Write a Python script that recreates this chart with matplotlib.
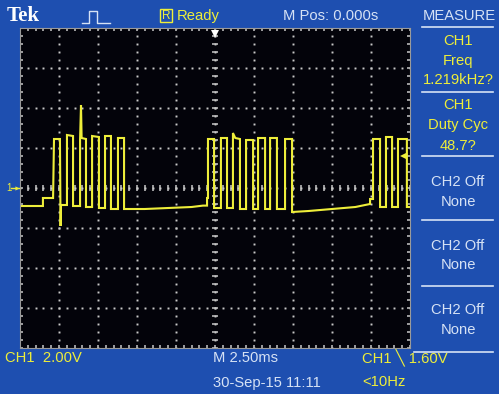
import matplotlib
matplotlib.use("Agg")
import matplotlib.pyplot as plt
import numpy as np

# ---- data (time in ms, voltage in V) ----
t_ms = [-12.5, -11.03, -11.03, -10.38, -10.32, -9.94, -9.9, -9.87, -9.49, -9.49, -9.1, -9.1,
        -8.65, -8.65, -8.59, -8.55, -8.27, -8.27, -7.88, -7.88, -7.44, -7.44, -7.05, -7.05,
        -6.67, -6.67, -6.22, -6.22, -5.83, -5.83,
        -4.5, -3.0, -1.5, -0.77, -0.51, -0.51, -0.45,
        -0.45, -0.06, -0.06, 0.38, 0.38, 0.77, 0.77, 1.15, 1.15, 1.3, 1.6, 1.6, 1.99, 1.99,
        2.44, 2.44, 2.76, 2.76, 3.21, 3.21, 3.53, 3.53, 3.97, 3.97, 4.49, 4.49, 4.94, 4.94,
        6.0, 7.5, 9.0, 9.62, 9.94, 9.94, 10.13, 10.13, 10.58, 10.58, 10.96, 10.96, 11.35, 11.35,
        11.73, 11.73, 12.3, 12.3, 12.5]
v_V = [-0.9, -0.9, -0.5, -0.5, 2.45, 2.45, -1.9, -0.85, -0.85, 2.65, 2.6, -0.9,
       -0.9, 2.4, 4.15, 2.5, 2.45, -0.95, -0.95, 2.6, 2.55, -1.0, -1.0, 2.6,
       2.6, -1.05, -1.05, 2.5, 2.5, -1.05,
       -1.05, -1.0, -0.95, -0.88, -0.88, -0.5, -0.5,
       2.45, 2.45, -1.0, -1.0, 2.5, 2.5, -1.0, -1.0, 2.75, 2.5, 2.45, -1.05, -1.05, 2.4,
       2.4, -1.05, -1.05, 2.5, 2.5, -1.05, -1.05, 2.5, 2.5, -1.05, -1.05, 2.45, 2.45, -1.2,
       -1.15, -1.05, -0.95, -0.85, -0.8, -0.55, -0.55, 2.45, 2.45, -0.95, -0.95, 2.55, 2.55,
       -0.95, -0.95, 2.45, 2.45, -0.95, -0.95]

trig_level_V = 1.6
meas_titles = ["CH1\nFreq\n1.219kHz?", "CH1\nDuty Cyc\n48.7?", "CH2 Off\nNone", "CH2 Off\nNone", "CH2 Off\nNone"]
ch1_scale = "CH1  2.00V"
time_scale = "M 2.50ms"
date_txt = "30-Sep-15 11:11"
trig_txt = "CH1 \u2572 1.60V"
trig_freq = "<10Hz"
mpos = "M Pos: 0.000s"

W, H = 499, 394
BLUE = "#1e4fb0"
YEL = "#eeee3a"
LT = "#d6e2f5"
FONT = ["Liberation Sans", "DejaVu Sans"]
FS = 10.6

fig = plt.figure(figsize=(W / 100, H / 100), dpi=100, facecolor=BLUE)

def px(x, y):
    return x / W, 1 - y / H

# screen
L, T, R, B = 20, 28, 410, 348
ax = fig.add_axes([L / W, 1 - B / H, (R - L) / W, (B - T) / H])
ax.set_facecolor("#03030a")
ax.set_xlim(-12.5, 12.5)
ax.set_ylim(-8, 8)
for s in ax.spines.values():
    s.set_color("#9a9a9a")
    s.set_linewidth(0.8)
ax.set_xticks([]); ax.set_yticks([])

gc = "#c8c8c8"
xdiv = np.arange(-12.5, 12.51, 2.5)
ydiv = np.arange(-8, 8.01, 2)
ys = np.arange(-8, 8.001, 0.4)
xs = np.arange(-12.5, 12.501, 0.5)
for xv in xdiv[1:-1]:
    ax.plot([xv] * len(ys), ys, ls="none", marker="s", ms=1.4, color=gc, mew=0)
for yv in ydiv[1:-1]:
    ax.plot(xs, [yv] * len(xs), ls="none", marker="s", ms=1.4, color=gc, mew=0)
# center ticks
ax.plot(xs, [0] * len(xs), ls="none", marker="|", ms=4.5, color=gc, mew=1.1)
ax.plot([0] * len(ys), ys, ls="none", marker="_", ms=4.5, color=gc, mew=1.1)
# edge ticks
ax.plot(xs, [8] * len(xs), ls="none", marker="|", ms=5, color=gc, mew=1.1)
ax.plot(xs, [-8] * len(xs), ls="none", marker="|", ms=5, color=gc, mew=1.1)
ax.plot([-12.5] * len(ys), ys, ls="none", marker="_", ms=5, color=gc, mew=1.1)
ax.plot([12.5] * len(ys), ys, ls="none", marker="_", ms=5, color=gc, mew=1.1)

# trace
ax.plot(t_ms, v_V, color=YEL, lw=1.5, solid_joinstyle="miter")

# trigger position marker (top) and trigger level marker (right)
ax.plot([0], [7.7], marker="v", ms=6, color="white", mew=0, clip_on=False)
ax.plot([12.05], [trig_level_V], marker="<", ms=5, color=YEL, mew=0, clip_on=False)

# ground marker
fig.text(*px(6, 188), "1", color=YEL, fontsize=7, va="center", ha="left", family=FONT)
fig.add_artist(plt.Line2D([px(11, 0)[0], px(19, 0)[0]], [px(0, 188)[1]] * 2, color=YEL, lw=1))
fig.add_artist(plt.Line2D([px(17, 0)[0]], [px(0, 188)[1]], marker=">", ms=3, color=YEL, mew=0))

def t(x, y, s, color="white", size=FS, ha="left", weight="normal", family=FONT, **kw):
    fig.text(*px(x, y), s, color=color, fontsize=size, ha=ha, va="center", weight=weight, family=family, **kw)

t(7, 16, "Tek", size=15, weight="bold", family=["Liberation Serif", "DejaVu Serif"])
# pulse icon
ix = [82, 89, 89, 97, 97, 110]
iy = [23, 23, 11, 11, 23, 23]
fig.add_artist(plt.Line2D([x / W for x in ix], [1 - y / H for y in iy], color=LT, lw=1))
t(162, 16, "R", color=YEL, size=8.5)
fig.add_artist(plt.Rectangle(px(160, 22), 12 / W, 13 / H, fill=False, ec=YEL, lw=1))
t(177, 16, "Ready", color=YEL)
t(283, 16, mpos, color=LT)
t(459, 16, "MEASURE", color=LT, ha="center")

# measure panel lines
for yl in [27, 92, 156, 220, 286]:
    fig.add_artist(plt.Line2D([422 / W, 493 / W], [1 - yl / H] * 2, color=LT, lw=1.2))
fig.add_artist(plt.Line2D([414 / W, 493 / W], [1 - 352 / H] * 2, color=LT, lw=1.2))
mys = [(41, 19.5), (105, 20.5), (182, 20), (246, 19), (310, 20)]
for i, (s, (y0, dy)) in enumerate(zip(meas_titles, mys)):
    col = YEL if i < 2 else LT
    for j, line in enumerate(s.split("\n")):
        t(458, y0 + j * dy, line, color=col, ha="center")

t(5, 358, ch1_scale, color=YEL)
t(213, 358, time_scale, color=LT)
t(213, 383, date_txt, color=LT)
t(362, 358, trig_txt, color=YEL)
t(362, 382, trig_freq, color=YEL)

fig.savefig("out.png", dpi=100, facecolor=BLUE)
